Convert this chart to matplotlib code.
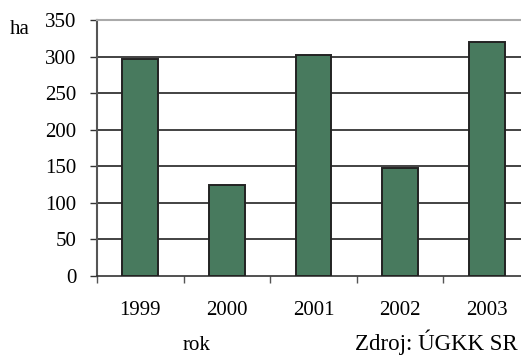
import matplotlib
matplotlib.use("Agg")
import matplotlib.pyplot as plt
import numpy as np

plt.rcParams['font.family'] = ['Liberation Serif', 'DejaVu Serif']

# data
years = ["1999", "2000", "2001", "2002", "2003"]
area_ha = [297, 125, 302, 148, 320]
y_ticks = [0, 50, 100, 150, 200, 250, 300, 350]

W, H = 521, 356
fig = plt.figure(figsize=(W / 100, H / 100), dpi=100)

# plot area runs past the right edge of the image, like the source
left, right, top, bottom = 97, 530, 20, 276
ax = fig.add_axes([left / W, 1 - bottom / H, (right - left) / W, (bottom - top) / H])

x = np.arange(len(years))
ax.bar(x, area_ha, width=0.415, color="#487a5e", edgecolor="#222222",
       linewidth=1.4, zorder=3)

ax.set_xlim(-0.5, len(years) - 0.5)
ax.set_ylim(0, 350)
ax.set_yticks(y_ticks)
ax.set_yticklabels([str(v) for v in y_ticks], fontsize=15)
ax.set_xticks(x)
ax.set_xticklabels(years, fontsize=15)
ax.tick_params(axis="x", length=0, pad=18)
ax.tick_params(axis="y", length=5, width=1, color="#333333", pad=10)

# category boundary ticks on the x axis
ax.set_xticks(np.arange(-0.5, len(years)), minor=True)
ax.tick_params(axis="x", which="minor", length=5, width=1, color="#555555")

for v in y_ticks[1:-1]:
    ax.axhline(v, color="#222222", linewidth=1.2, zorder=1)

ax.spines["top"].set_color("#aaaaaa")
ax.spines["top"].set_linewidth(1.5)
ax.spines["right"].set_visible(False)
ax.spines["left"].set_color("#555555")
ax.spines["left"].set_linewidth(1.5)
ax.spines["bottom"].set_color("#333333")
ax.spines["bottom"].set_linewidth(1.2)

fig.text(10 / W, 1 - 34 / H, "ha", fontsize=15, va="baseline", ha="left")
fig.text(197 / W, 1 - 350 / H, "rok", fontsize=15, va="baseline", ha="center")
fig.text(518 / W, 1 - 350 / H, "Zdroj: ÚGKK SR", fontsize=16.5, va="baseline", ha="right")

fig.savefig("out.png", dpi=100)
plt.close(fig)
